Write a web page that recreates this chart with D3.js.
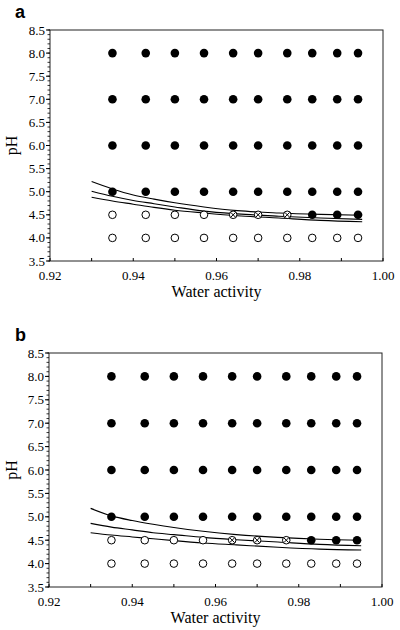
<!DOCTYPE html>
<html><head><meta charset="utf-8">
<script src="https://cdn.jsdelivr.net/npm/d3@7"></script>
<style>body{margin:0;background:#fff}svg{display:block}</style>
</head><body>
<script>
// Data
const waterActivity = [0.935, 0.943, 0.950, 0.957, 0.964, 0.970, 0.977, 0.983, 0.989, 0.994];
const pHLevels = [8.0, 7.0, 6.0, 5.0, 4.5, 4.0];
// growth status per pH row (g = growth/filled, n = no growth/open, x = crossed)
const statusA = {
  "8": ["g","g","g","g","g","g","g","g","g","g"],
  "7": ["g","g","g","g","g","g","g","g","g","g"],
  "6": ["g","g","g","g","g","g","g","g","g","g"],
  "5": ["g","g","g","g","g","g","g","g","g","g"],
  "4.5": ["n","n","n","n","x","x","x","g","g","g"],
  "4": ["n","n","n","n","n","n","n","n","n","n"]
};
const statusB = statusA;
const curveAw = [0.930, 0.935, 0.940, 0.945, 0.950, 0.957, 0.965, 0.975, 0.985, 0.995];
const curveA_top = [5.22, 5.06, 4.93, 4.84, 4.76, 4.67, 4.59, 4.54, 4.51, 4.49];
const curveA_mid = [5.01, 4.90, 4.81, 4.74, 4.67, 4.58, 4.52, 4.47, 4.43, 4.40];
const curveA_bot = [4.88, 4.80, 4.73, 4.66, 4.60, 4.54, 4.48, 4.43, 4.38, 4.35];
const curveB_top = [5.18, 5.02, 4.92, 4.84, 4.77, 4.69, 4.62, 4.56, 4.52, 4.50];
const curveB_mid = [4.86, 4.78, 4.72, 4.66, 4.62, 4.56, 4.51, 4.46, 4.41, 4.38];
const curveB_bot = [4.66, 4.61, 4.57, 4.53, 4.49, 4.44, 4.40, 4.35, 4.31, 4.29];
const xTicks = [0.92, 0.94, 0.96, 0.98, 1.00];
const yTicks = [3.5, 4.0, 4.5, 5.0, 5.5, 6.0, 6.5, 7.0, 7.5, 8.0, 8.5];

const svg = d3.select("body").append("svg").attr("width", 400).attr("height", 630);
const serif = "'Liberation Serif','Times New Roman',serif";

function panel(letter, top, left, right, bottom, status, curves) {
  const x = d3.scaleLinear().domain([0.92, 1.00]).range([left, right]);
  const y = d3.scaleLinear().domain([3.5, 8.5]).range([bottom, top]);
  const g = svg.append("g");
  // frame
  g.append("rect").attr("x", left).attr("y", top).attr("width", right - left).attr("height", bottom - top)
    .attr("fill", "none").attr("stroke", "#222").attr("stroke-width", 1);
  // x axis: ticks inside
  const xMinor = d3.range(0.92, 1.0001, 0.01);
  g.selectAll(".xm").data(xMinor).join("line")
    .attr("x1", d => x(d)).attr("x2", d => x(d)).attr("y1", bottom).attr("y2", bottom - 3)
    .attr("stroke", "#000");
  g.selectAll(".xl").data(xTicks).join("text")
    .attr("x", d => x(d)).attr("y", bottom + 19).attr("text-anchor", "middle")
    .attr("font-family", serif).attr("font-size", 13).text(d => d.toFixed(2));
  // y axis: ticks outside
  const yMinor = d3.range(3.5, 8.5001, 0.1);
  g.selectAll(".ym").data(yMinor).join("line")
    .attr("x1", left).attr("x2", left - 2.5).attr("y1", d => y(d)).attr("y2", d => y(d))
    .attr("stroke", "#000").attr("stroke-width", 0.8);
  g.selectAll(".yM").data(yTicks).join("line")
    .attr("x1", left).attr("x2", left - 4).attr("y1", d => y(d)).attr("y2", d => y(d))
    .attr("stroke", "#000");
  g.selectAll(".yl").data(yTicks).join("text")
    .attr("x", left - 5).attr("y", d => y(d) + 4.5).attr("text-anchor", "end")
    .attr("font-family", serif).attr("font-size", 13).text(d => d.toFixed(1));
  // titles
  g.append("text").attr("x", (left + right) / 2).attr("y", bottom + 36).attr("text-anchor", "middle")
    .attr("font-family", serif).attr("font-size", 16).text("Water activity");
  g.append("text").attr("transform", `translate(17,${(top + bottom) / 2}) rotate(-90)`)
    .attr("text-anchor", "middle").attr("font-family", serif).attr("font-size", 16).text("pH");
  g.append("text").attr("x", 15).attr("y", top - 12).attr("font-family", "'Liberation Sans',Arial,sans-serif")
    .attr("font-weight", "bold").attr("font-size", 18).text(letter);
  // curves
  const line = d3.line().x((d, i) => x(curveAw[i])).y(d => y(d)).curve(d3.curveMonotoneX);
  curves.forEach(c => g.append("path").attr("d", line(c)).attr("fill", "none")
    .attr("stroke", "#000").attr("stroke-width", 1.1));
  // points
  const pts = [];
  pHLevels.forEach(p => status[String(p)].forEach((s, i) => pts.push({aw: waterActivity[i], ph: p, s})));
  g.selectAll(".pt").data(pts).join("circle")
    .attr("cx", d => x(d.aw)).attr("cy", d => y(d.ph)).attr("r", d => d.s === "g" ? 4.3 : 3.8)
    .attr("fill", d => d.s === "g" ? "#000" : "#fff").attr("stroke", "#000").attr("stroke-width", d => d.s === "g" ? 0 : 1);
  const xs = pts.filter(d => d.s === "x");
  const k = 2.4;
  ["a", "b"].forEach(dir => g.selectAll(".cx" + dir).data(xs).join("line")
    .attr("x1", d => x(d.aw) - k).attr("x2", d => x(d.aw) + k)
    .attr("y1", d => y(d.ph) + (dir === "a" ? -k : k)).attr("y2", d => y(d.ph) + (dir === "a" ? k : -k))
    .attr("stroke", "#000").attr("stroke-width", 1));
}

panel("a", 30, 50, 383, 261, statusA, [curveA_top, curveA_mid, curveA_bot]);
panel("b", 353, 49, 382, 587, statusB, [curveB_top, curveB_mid, curveB_bot]);
</script>
</body></html>
